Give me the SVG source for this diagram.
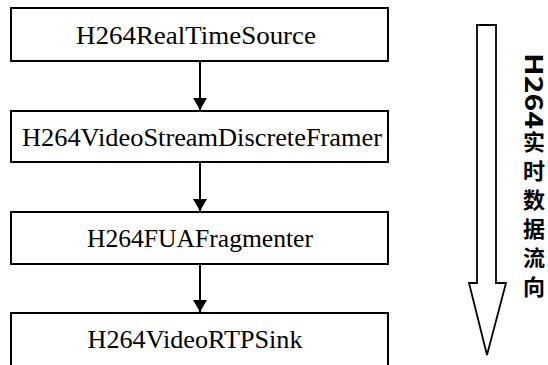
<svg xmlns="http://www.w3.org/2000/svg" width="548" height="365" viewBox="0 0 548 365">
  <style>
    .box { fill: #fff; stroke: #000; stroke-width: 2; }
    .lbl { font-family: "Liberation Serif", "Times New Roman", serif; font-size: 25px; fill: #000; text-anchor: middle; }
    .edge { stroke: #000; stroke-width: 2; fill: none; }
    .side { font-family: "Noto Sans CJK SC", "Noto Sans", sans-serif; font-weight: 700; fill: #000; }
    .vert { writing-mode: vertical-rl; text-orientation: upright; font-size: 22px; letter-spacing: 7px; }
  </style>
  <defs>
    <marker id="ah" viewBox="0 0 12 14" refX="12" refY="7" markerWidth="12" markerHeight="14" markerUnits="userSpaceOnUse" orient="auto">
      <path d="M0,0 L12,7 L0,14 Z" fill="#000"/>
    </marker>
  </defs>
  <rect width="548" height="365" fill="#fff"/>

  <g id="connectors">
    <line class="edge" x1="200" y1="61" x2="200" y2="110" marker-end="url(#ah)"/>
    <line class="edge" x1="200" y1="162" x2="200" y2="211" marker-end="url(#ah)"/>
    <line class="edge" x1="200" y1="264" x2="200" y2="312" marker-end="url(#ah)"/>
  </g>

  <g id="n1">
    <rect class="box" x="11" y="8" width="377" height="53"/>
    <text class="lbl" x="196" y="44" textLength="240" lengthAdjust="spacingAndGlyphs">H264RealTimeSource</text>
  </g>
  <g id="n2">
    <rect class="box" x="11" y="111" width="377" height="51"/>
    <text class="lbl" x="202" y="146" textLength="360" lengthAdjust="spacingAndGlyphs">H264VideoStreamDiscreteFramer</text>
  </g>
  <g id="n3">
    <rect class="box" x="11" y="212" width="377" height="52"/>
    <text class="lbl" x="200" y="247" textLength="226" lengthAdjust="spacingAndGlyphs">H264FUAFragmenter</text>
  </g>
  <g id="n4">
    <rect class="box" x="11" y="313" width="377" height="60"/>
    <text class="lbl" x="195" y="348" textLength="215" lengthAdjust="spacingAndGlyphs">H264VideoRTPSink</text>
  </g>

  <!-- data-flow direction arrow with its caption -->
  <g id="flow">
    <polygon points="477,25 496,25 496,283 506,283 487,355 469,283 477,283" fill="#fff" stroke="#000" stroke-width="1.8"/>
    <text class="side" font-size="24" transform="translate(525,53) rotate(90)" textLength="76" lengthAdjust="spacingAndGlyphs">H264</text>
    <text class="side vert" x="534" y="131">实时数据流向</text>
  </g>
</svg>
